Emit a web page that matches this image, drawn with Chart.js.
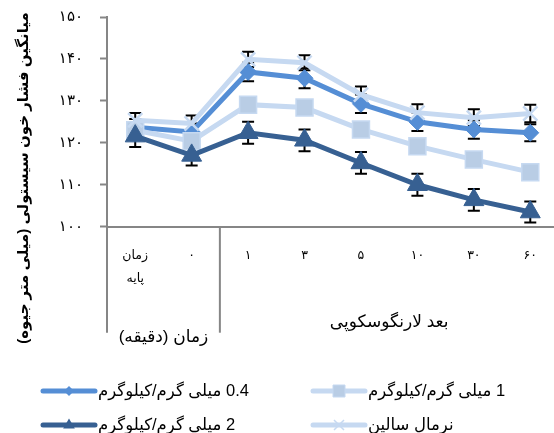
<!DOCTYPE html>
<html><head><meta charset="utf-8">
<script src="https://cdn.jsdelivr.net/npm/chart.js@4.4.1/dist/chart.umd.min.js"></script>
<style>
html,body{margin:0;padding:0;background:#fff;overflow:hidden;}
#wrap{width:554px;height:433px;overflow:hidden;position:relative;background:#fff;}
#wrap canvas{position:absolute;left:0;top:0;}
</style></head><body>
<div id="wrap"><canvas id="c" width="572" height="433" style="width:572px;height:433px"></canvas></div>
<script>
// ---- data ----
const categories = [['زمان','پایه'], '۰', '۱', '۳', '۵', '۱۰', '۳۰', '۶۰'];
const seriesNames = ['0.4 میلی گرم/کیلوگرم', '1 میلی گرم/کیلوگرم', '2 میلی گرم/کیلوگرم', 'نرمال سالین'];
const dose04 = [123.7, 122.6, 136.9, 135.4, 129.3, 125.0, 123.2, 122.4];
const dose1  = [123.0, 120.4, 129.1, 128.4, 123.2, 119.2, 116.0, 113.0];
const dose2  = [121.6, 117.0, 122.4, 120.6, 115.2, 110.0, 106.4, 103.5];
const saline = [125.4, 124.6, 139.9, 139.1, 131.5, 127.2, 126.0, 127.0];
const err04  = [2.0, 2.0, 2.2, 2.4, 2.2, 2.2, 2.2, 2.0];
const err1   = [1.5, 1.5, 1.5, 1.5, 1.5, 1.5, 1.5, 1.5];
const err2   = [2.6, 2.4, 2.6, 2.6, 2.6, 2.6, 2.6, 2.5];
const errSal = [1.7, 1.9, 1.8, 1.8, 1.9, 2.0, 2.0, 2.1];
const yTickValues = [100, 110, 120, 130, 140, 150];
const yTickLabels = ['۱۰۰', '۱۱۰', '۱۲۰', '۱۳۰', '۱۴۰', '۱۵۰'];
const groupLabels = ['زمان (دقیقه)', 'بعد لارنگوسکوپی'];
const yTitle = 'میانگین فشار خون سیستولی (میلی متر جیوه)';

const FONT = '"Liberation Sans", Arial, "DejaVu Sans", sans-serif';
const AXIS = '#868686';

const datasets = [
  {label: seriesNames[0], data: dose04, errs: err04, borderColor: '#558ED5', backgroundColor: '#558ED5',
   pointStyle: 'rectRot', pointRadius: 8.5, pointBorderColor: '#558ED5', pointBackgroundColor: '#558ED5', order: 3},
  {label: seriesNames[1], data: dose1, errs: err1, borderColor: '#C6D9F1', backgroundColor: '#B9CDE5',
   pointStyle: 'rect', pointRadius: 12, pointBorderColor: '#C6D9F1', pointBackgroundColor: '#B9CDE5', pointBorderWidth: 1.5, order: 2},
  {label: seriesNames[2], data: dose2, errs: err2, borderColor: '#376092', backgroundColor: '#376092',
   pointStyle: 'triangle', pointRadius: 11.5, pointBorderColor: '#376092', pointBackgroundColor: '#376092', order: 1},
  {label: seriesNames[3], data: saline, errs: errSal, borderColor: '#C6D9F1', backgroundColor: '#C6D9F1',
   pointStyle: 'crossRot', pointRadius: 10, pointBorderColor: '#C6D9F1', pointBackgroundColor: '#C6D9F1', pointBorderWidth: 2.5, order: 0}
];
datasets.forEach(d => { d.borderWidth = 5; d.tension = 0; d.fill = false; if (d.pointBorderWidth === undefined) d.pointBorderWidth = 1; });

const errorBars = {
  id: 'errorBars',
  beforeDatasetsDraw(chart) {
    const ctx = chart.ctx, xs = chart.scales.x, ys = chart.scales.y;
    ctx.save();
    ctx.strokeStyle = '#000';
    ctx.lineWidth = 2;
    chart.data.datasets.forEach(ds => {
      ds.data.forEach((v, i) => {
        const x = xs.getPixelForValue(i);
        const y1 = ys.getPixelForValue(v + ds.errs[i]);
        const y2 = ys.getPixelForValue(v - ds.errs[i]);
        ctx.beginPath();
        ctx.moveTo(x, y1); ctx.lineTo(x, y2);
        ctx.moveTo(x - 6, y1); ctx.lineTo(x + 6, y1);
        ctx.moveTo(x - 6, y2); ctx.lineTo(x + 6, y2);
        ctx.stroke();
      });
    });
    ctx.restore();
  }
};

function marker(ctx, style, x, y, r, fill, stroke, bw) {
  ctx.save();
  ctx.fillStyle = fill; ctx.strokeStyle = stroke; ctx.lineWidth = bw;
  ctx.beginPath();
  if (style === 'rectRot') {
    ctx.moveTo(x, y - r); ctx.lineTo(x + r, y); ctx.lineTo(x, y + r); ctx.lineTo(x - r, y); ctx.closePath();
    ctx.fill();
  } else if (style === 'rect') {
    ctx.rect(x - r, y - r, 2 * r, 2 * r); ctx.fill(); ctx.stroke();
  } else if (style === 'triangle') {
    ctx.moveTo(x, y - r); ctx.lineTo(x + r * 0.9, y + r * 0.55); ctx.lineTo(x - r * 0.9, y + r * 0.55); ctx.closePath();
    ctx.fill();
  } else {
    ctx.moveTo(x - r, y - r); ctx.lineTo(x + r, y + r);
    ctx.moveTo(x + r, y - r); ctx.lineTo(x - r, y + r);
    ctx.stroke();
  }
  ctx.restore();
}

const decorations = {
  id: 'decorations',
  afterDraw(chart) {
    const ctx = chart.ctx, xs = chart.scales.x, ca = chart.chartArea;
    const half = (xs.getPixelForValue(1) - xs.getPixelForValue(0)) / 2;
    ctx.save();
    // group separators below the category axis
    ctx.strokeStyle = AXIS; ctx.lineWidth = 2;
    [0, 2].forEach(i => {
      const x = xs.getPixelForValue(i) - half;
      ctx.beginPath(); ctx.moveTo(x, ca.bottom); ctx.lineTo(x, ca.bottom + 106); ctx.stroke();
    });
    // group labels
    ctx.fillStyle = '#000';
    ctx.font = '17px ' + FONT;
    ctx.textAlign = 'center'; ctx.textBaseline = 'middle'; ctx.direction = 'rtl';
    const g1 = (xs.getPixelForValue(0) + xs.getPixelForValue(1)) / 2;
    const g2 = (xs.getPixelForValue(2) + xs.getPixelForValue(7)) / 2;
    ctx.fillText(groupLabels[0], g1, ca.bottom + 111);
    ctx.fillText(groupLabels[1], g2, ca.bottom + 96);
    // y axis title
    ctx.save();
    ctx.translate(24, 178);
    ctx.rotate(-Math.PI / 2);
    ctx.font = 'bold 15px ' + FONT;
    ctx.fillText(yTitle, 0, 0);
    ctx.restore();
    // legend (2 x 2)
    const colX = [41, 311], rowY = [391, 425];
    const legR = [5, 6, 6.5, 5];
    chart.data.datasets.forEach((ds, i) => {
      const x0 = colX[i % 2], y = rowY[Math.floor(i / 2)], x1 = x0 + 54;
      ctx.strokeStyle = ds.borderColor; ctx.lineWidth = 5; ctx.lineCap = 'round';
      ctx.beginPath(); ctx.moveTo(x0 + 2, y); ctx.lineTo(x1, y); ctx.stroke();
      ctx.lineCap = 'butt';
      marker(ctx, ds.pointStyle, (x0 + x1) / 2 + 1, y, legR[i], ds.pointBackgroundColor, ds.pointBorderColor, ds.pointStyle === 'crossRot' ? 1.5 : 1);
      ctx.fillStyle = '#000';
      ctx.font = '16.5px ' + FONT;
      ctx.textAlign = 'left'; ctx.textBaseline = 'middle'; ctx.direction = 'rtl';
      ctx.fillText(ds.label, x1 + 3, y);
    });
    ctx.restore();
  }
};

new Chart(document.getElementById('c'), {
  type: 'line',
  data: {labels: categories, datasets},
  plugins: [errorBars, decorations],
  options: {
    responsive: false,
    animation: false,
    devicePixelRatio: 1,
    layout: {padding: {left: 0, right: 1.6, top: 17, bottom: 86.3}},
    plugins: {legend: {display: false}, tooltip: {enabled: false}},
    scales: {
      x: {
        type: 'category', offset: true,
        grid: {display: true, drawOnChartArea: false, drawTicks: false, color: 'rgba(0,0,0,0)'},
        border: {display: true, color: AXIS, width: 2},
        ticks: {padding: 17, autoSkip: false, maxRotation: 0, color: '#000',
                font: {family: FONT, size: 12.5, lineHeight: 1.85}},
        afterFit(s) { s.height = 120; }
      },
      y: {
        min: 100, max: 150,
        ticks: {stepSize: 10, padding: 17, color: '#000', font: {family: FONT, size: 15},
                callback: v => yTickLabels[yTickValues.indexOf(v)]},
        grid: {display: true, drawOnChartArea: false, drawTicks: true, tickLength: 7, tickColor: AXIS, tickWidth: 2},
        border: {display: true, color: AXIS, width: 2},
        afterFit(s) { s.width = 107; s.paddingTop = 9; s.paddingBottom = 9; }
      }
    }
  }
});
</script>
</body></html>
